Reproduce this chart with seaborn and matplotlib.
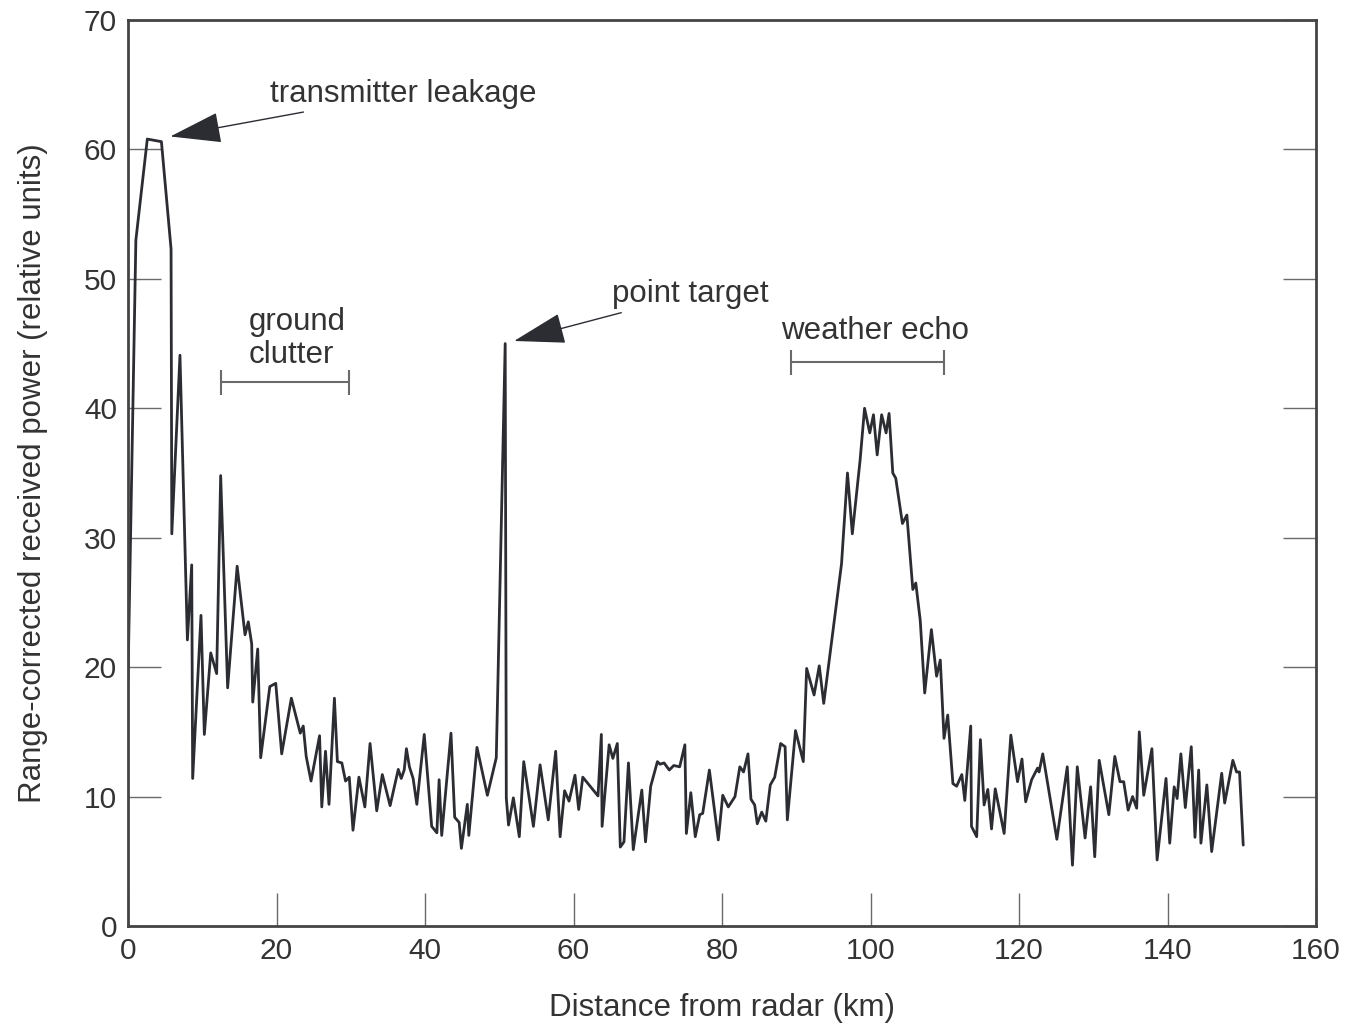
import numpy as np
import pandas as pd
import seaborn as sns
import matplotlib.pyplot as plt

# range-corrected received power trace
distance_km = [
    0.0, 1.06, 2.6, 4.5, 5.8, 5.9, 7.0, 8.0, 8.58, 8.71, 9.83, 10.28, 11.14, 11.94,
    12.48, 13.42, 14.7, 15.76, 16.2, 16.66, 16.8, 17.47, 17.87, 19.1, 19.9, 20.7,
    22.0, 23.2, 23.6, 24.0, 24.65, 25.8, 26.1, 26.6, 27.07, 27.8, 28.2, 28.8, 29.3,
    29.8, 30.3, 31.1, 31.9, 32.6, 33.5, 34.25, 35.3, 36.4, 36.8, 37.2, 37.5, 37.9,
    38.4, 38.9, 39.9, 40.9, 41.6, 41.9, 42.25, 43.5, 44.0, 44.6, 44.9, 45.7, 45.9,
    47.0, 48.4, 49.6, 50.8, 50.95, 51.25, 51.9, 52.7, 53.3, 54.6, 55.5, 56.6, 57.6,
    58.2, 58.8, 59.4, 60.2, 60.7, 61.25, 63.3, 63.75, 63.85, 64.8, 65.3, 65.9, 66.3,
    66.8, 67.4, 68.05, 69.2, 69.7, 70.4, 71.3, 71.65, 72.2, 72.9, 73.5, 74.3, 75.0,
    75.2, 75.8, 76.4, 77.0, 77.4, 78.3, 79.5, 80.1, 80.85, 81.75, 82.4, 82.9, 83.5,
    83.9, 84.4, 84.75, 85.35, 85.9, 86.5, 87.1, 87.9, 88.5, 88.8, 89.9, 90.95, 91.4,
    92.4, 93.1, 93.7, 96.1, 96.9, 97.55, 98.6, 99.2, 99.9, 100.4, 100.9, 101.5,
    102.1, 102.5, 103.0, 103.4, 104.3, 104.9, 105.7, 106.1, 106.7, 107.3, 108.2,
    108.9, 109.4, 109.9, 110.4, 111.1, 111.6, 112.3, 112.7, 113.5, 113.6, 114.3,
    114.8, 115.3, 115.8, 116.3, 116.8, 118.0, 118.9, 119.8, 120.4, 120.9, 121.7,
    122.5, 122.7, 123.2, 125.1, 126.5, 127.2, 127.85, 128.9, 129.65, 130.2, 130.8,
    132.1, 132.9, 133.6, 134.1, 134.7, 135.3, 135.85, 136.2, 136.8, 137.9, 138.6,
    139.8, 140.3, 140.9, 141.3, 141.8, 142.4, 143.2, 143.7, 144.2, 144.5, 145.3,
    145.95, 147.3, 147.7, 148.8, 149.3, 149.7, 150.2,
]
power = [
    19.0, 53.0, 60.8, 60.6, 52.3, 30.3, 44.1, 22.1, 27.9, 11.4, 24.0, 14.8, 21.1, 19.5,
    34.8, 18.4, 27.8, 22.5, 23.5, 21.8, 17.3, 21.4, 13.0, 18.5, 18.75, 13.3,
    17.6, 14.9, 15.45, 13.1, 11.2, 14.7, 9.2, 13.5, 9.4, 17.6, 12.7, 12.6, 11.2,
    11.5, 7.4, 11.5, 9.2, 14.1, 8.9, 11.7, 9.3, 12.1, 11.4, 12.05, 13.7, 12.3,
    11.4, 9.4, 14.8, 7.7, 7.2, 11.3, 7.0, 14.9, 8.4, 8.0, 6.0, 9.4, 7.0,
    13.8, 10.1, 13.0, 45.0, 9.9, 7.8, 9.9, 6.9, 12.7, 7.7, 12.45, 8.2, 13.5,
    6.9, 10.45, 9.65, 11.65, 9.0, 11.5, 10.05, 14.8, 7.7, 14.0, 12.95, 14.1, 6.1,
    6.5, 12.6, 5.9, 10.5, 6.5, 10.8, 12.7, 12.5, 12.6, 12.05, 12.4, 12.3, 14.0,
    7.15, 10.3, 6.9, 8.6, 8.7, 12.05, 6.65, 10.1, 9.2, 10.0, 12.3, 11.9, 13.3,
    9.8, 9.35, 7.9, 8.8, 8.1, 10.9, 11.5, 14.1, 13.85, 8.2, 15.1, 12.7, 19.9,
    17.85, 20.1, 17.2, 28.0, 35.0, 30.3, 36.0, 40.0, 38.1, 39.5, 36.4, 39.5,
    38.1, 39.6, 35.0, 34.6, 31.1, 31.75, 26.0, 26.5, 23.6, 18.0, 22.9,
    19.3, 20.55, 14.5, 16.3, 11.0, 10.8, 11.7, 9.7, 15.45, 7.7, 6.9,
    14.4, 9.35, 10.55, 7.5, 10.6, 7.15, 14.75, 11.15, 12.9, 9.6, 11.3,
    12.2, 11.9, 13.3, 6.7, 12.3, 4.7, 12.3, 6.8, 10.75, 5.35, 12.8,
    8.6, 13.1, 11.15, 11.15, 8.95, 10.0, 9.1, 15.0, 10.1, 13.7, 5.1,
    11.4, 6.4, 10.75, 9.85, 13.3, 9.15, 13.85, 6.85, 12.05, 6.4, 10.9,
    5.75, 11.8, 9.5, 12.8, 11.9, 11.9, 6.25,
]

x_ticks = [0, 20, 40, 60, 80, 100, 120, 140, 160]
y_ticks = [0, 10, 20, 30, 40, 50, 60, 70]

# labelled ranges (start, end) drawn as brackets
clutter_range = (12.5, 29.8)
weather_range = (89.3, 109.9)

df = pd.DataFrame({'distance': distance_km, 'power': power})

sns.set_theme(style='ticks')
plt.rcParams['font.family'] = ['Liberation Sans', 'DejaVu Sans']
ink = '#2b2d33'
grey = '#6a6a6a'
txt = '#333333'
fs = 22.5

fig = plt.figure(figsize=(13.47, 10.31), dpi=100)
ax = fig.add_axes([128 / 1347, 105 / 1031, 1188 / 1347, 906 / 1031])

sns.lineplot(data=df, x='distance', y='power', estimator=None, sort=False,
             color=ink, linewidth=2.0, ax=ax)

ax.set_xlim(0, 160)
ax.set_ylim(0, 70)
ax.set_xticks(x_ticks)
ax.set_yticks(y_ticks)
ax.tick_params(axis='both', direction='in', length=24, width=1.0, color=grey,
               labelsize=21.5, labelcolor=txt, pad=8)
ax.tick_params(axis='y', right=True)
for s in ax.spines.values():
    s.set_linewidth(2.0)
    s.set_color('#444444')

ax.set_xlabel('Distance from radar (km)', fontsize=fs, color=txt, labelpad=20)
ax.set_ylabel('Range-corrected received power (relative units)', fontsize=fs,
              color=txt, labelpad=26)

arrow = dict(arrowstyle='-|>,head_length=1.5,head_width=0.45', color=ink,
             lw=1.0, mutation_scale=22, shrinkA=0, shrinkB=0)
ax.annotate('transmitter leakage', xy=(5.7, 61.0), xytext=(19.1, 64.3),
            fontsize=fs, color=txt, va='center', ha='left',
            arrowprops=arrow)
ax.annotate('point target', xy=(52.0, 45.2), xytext=(65.2, 48.8),
            fontsize=fs, color=txt, va='center', ha='left',
            arrowprops=arrow)

ax.text(16.2, 45.4, 'ground\nclutter', fontsize=fs, color=txt,
        ha='left', va='center', linespacing=1.1)
ax.text(88.0, 46.0, 'weather echo', fontsize=fs, color=txt,
        ha='left', va='center')

for (a, b), yb in [(clutter_range, 42.0), (weather_range, 43.6)]:
    ax.errorbar((a + b) / 2, yb, xerr=(b - a) / 2, fmt='none', ecolor=grey,
                elinewidth=1.5, capsize=9, capthick=1.5)

fig.savefig('out.png', dpi=100)
